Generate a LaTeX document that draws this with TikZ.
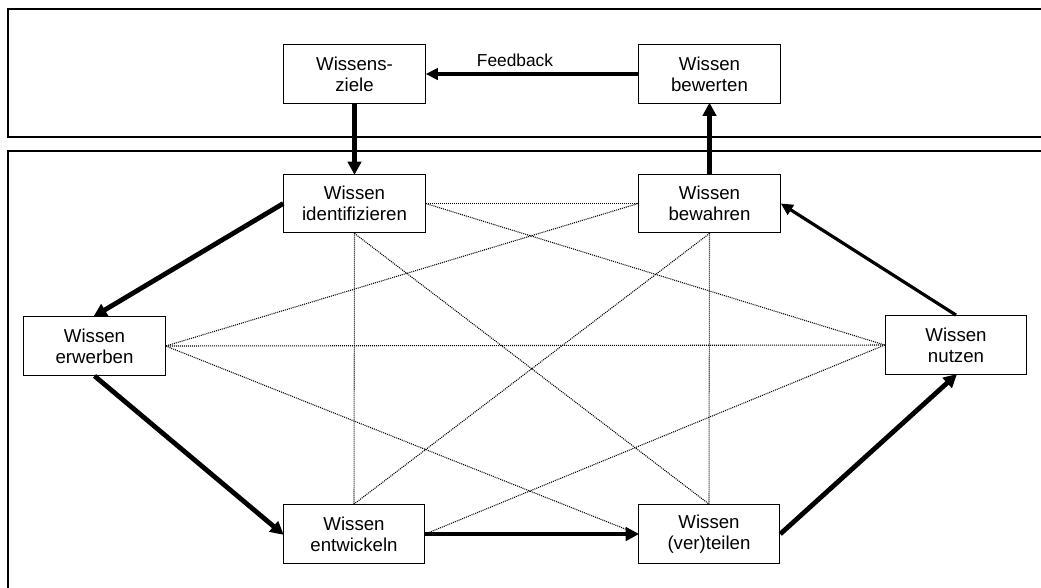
\documentclass[tikz,border=0pt]{standalone}
\usepackage{fontspec}
\setmainfont{Liberation Sans}
\usetikzlibrary{arrows.meta}

\tikzset{
  box/.style={draw, line width=0.9pt, fill=white, minimum width=106pt, minimum height=44pt,
              inner sep=0pt, align=center, font=\fontsize{14}{16}\selectfont},
  frame/.style={draw, line width=1pt},
  flow/.style={line width=3.6pt, -{Triangle[length=10pt,width=10pt]}, shorten >=-1pt},
  backflow/.style={line width=2.4pt, -{Triangle[length=9pt,width=8.5pt]}},
  link/.style={line width=0.8pt, dash pattern=on 0.75pt off 0.75pt}
}

\begin{document}
\begin{tikzpicture}[x=0.75pt, y=-0.75pt]
  \useasboundingbox (0,0) rectangle (1041,587);
  \clip (0,0) rectangle (1041,587);

  % strategic level and operative level
  \draw[frame] (8,9) rectangle (1060,137);
  \draw[frame] (8,151) rectangle (1060,610);

  % building blocks
  \node[box] (Z) at (354.5,74)  {Wissens-\\ziele};
  \node[box] (W) at (709.5,74)  {Wissen\\bewerten};
  \node[box] (I) at (354.5,203.5) {Wissen\\identifizieren};
  \node[box] (B) at (709.5,203.5) {Wissen\\bewahren};
  \node[box] (E) at (94.5,346)  {Wissen\\erwerben};
  \node[box] (N) at (956,345)   {Wissen\\nutzen};
  \node[box] (D) at (354,534)   {Wissen\\entwickeln};
  \node[box] (T) at (709,534)   {Wissen\\(ver)teilen};

  % dotted interrelations between the operative blocks
  \draw[link] (I.east)  -- (B.west);
  \draw[link] (I.south) -- (D.north);
  \draw[link] (I.south) -- (T.north);
  \draw[link] (I.east)  -- (N.west);
  \draw[link] (B.west)  -- (E.east);
  \draw[link] (B.south) -- (D.north);
  \draw[link] (B.south) -- (T.north);
  \draw[link] (E.east)  -- (N.west);
  \draw[link] (E.east)  -- (T.west);
  \draw[link] (D.east)  -- (N.west);

  % core process
  \draw[flow] (Z.south) -- (I.north);
  \draw[flow] (I.west)  -- (E.north);
  \draw[flow] (E.south) -- (D.west);
  \draw[flow] (D.east)  -- (T.west);
  \draw[flow] (T.east)  -- (N.south);
  \draw[backflow] (N.north) -- (B.east);
  \draw[flow] (B.north) -- (W.south);

  % feedback loop
  \draw[backflow] (W.west) -- node[pos=0.58, above=1pt, font=\fontsize{13}{15}\selectfont] {Feedback} (Z.east);
\end{tikzpicture}
\end{document}
